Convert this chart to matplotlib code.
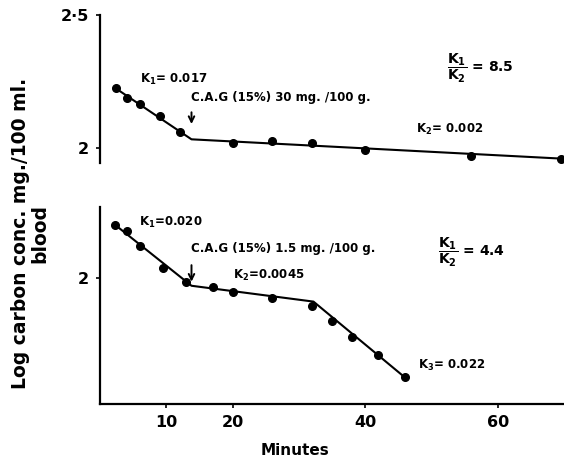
import matplotlib
matplotlib.use("Agg")
import matplotlib.pyplot as plt

plt.rcParams['font.family'] = ['DejaVu Sans']
plt.rcParams['font.weight'] = 'bold'
plt.rcParams['mathtext.fontset'] = 'dejavusans'

# upper experiment: 30 mg./100 g.
t_top = [2.4, 4, 6, 9, 12, 20, 26, 32, 40, 56, 69.5]
logc_top = [2.224, 2.189, 2.165, 2.121, 2.059, 2.021, 2.027, 2.018, 1.992, 1.971, 1.960]
fit_t_top = [2.4, 13.8, 70]
fit_c_top = [2.224, 2.033, 1.960]

# lower experiment: 1.5 mg./100 g.
t_bot = [2.3, 4, 6, 9.5, 13, 17, 20, 26, 32, 35, 38, 42, 46]
logc_bot = [2.204, 2.182, 2.123, 2.040, 1.986, 1.965, 1.945, 1.924, 1.893,
            1.836, 1.773, 1.705, 1.617]
fit_t_bot = [2.3, 13.8, 32.2, 46]
fit_c_bot = [2.204, 1.970, 1.909, 1.617]

x_ticks = [10, 20, 40, 60]

fig = plt.figure(figsize=(5.64, 4.57), dpi=100)
ax1 = fig.add_axes([0.1773, 0.6433, 0.8264, 0.3239])
ax2 = fig.add_axes([0.1773, 0.116, 0.8264, 0.431])

for ax in (ax1, ax2):
    ax.set_xlim(0, 70.3)
    for s in ('top', 'right'):
        ax.spines[s].set_visible(False)
    ax.spines['left'].set_linewidth(1.6)
    ax.spines['bottom'].set_linewidth(1.6)
    ax.tick_params(length=3, width=1.2, labelsize=11.5, pad=5)

ax1.spines['bottom'].set_visible(False)
ax1.set_xticks([])
ax1.set_ylim(1.944, 2.5)
ax1.set_yticks([2, 2.5])
ax1.set_yticklabels(['2', '2·5'])

ax2.set_ylim(1.515, 2.273)
ax2.set_yticks([2])
ax2.set_yticklabels(['2'])
ax2.set_xticks(x_ticks)
ax2.set_xticklabels([str(v) for v in x_ticks])

ax1.plot(fit_t_top, fit_c_top, color='black', lw=1.5)
ax1.plot(t_top, logc_top, 'o', color='black', ms=5.5, clip_on=False)
ax2.plot(fit_t_bot, fit_c_bot, color='black', lw=1.5)
ax2.plot(t_bot, logc_bot, 'o', color='black', ms=5.5, clip_on=False)

tk = dict(fontsize=8.5, fontweight='bold', va='center')
arrow = dict(arrowstyle='->', color='black', lw=1.4, mutation_scale=10)

ax1.text(6.0, 2.258, r'K$_\mathbf{1}$= 0.017', **tk)
ax1.text(13.7, 2.19, 'C.A.G (15%) 30 mg. /100 g.', **tk)
ax1.annotate('', xy=(13.8, 2.08), xytext=(13.8, 2.145), arrowprops=arrow)
ax1.text(47.6, 2.07, r'K$_\mathbf{2}$= 0.002', **tk)
ax1.text(52.3, 2.30, r'$\mathbf{\dfrac{K_1}{K_2}}$ = 8.5', fontsize=10,
         fontweight='bold', va='center')

ax2.text(5.9, 2.213, r'K$_\mathbf{1}$=0.020', **tk)
ax2.text(13.7, 2.115, 'C.A.G (15%) 1.5 mg. /100 g.', **tk)
ax2.annotate('', xy=(13.8, 1.975), xytext=(13.8, 2.06), arrowprops=arrow)
ax2.text(20.0, 2.01, r'K$_\mathbf{2}$=0.0045', **tk)
ax2.text(51.0, 2.10, r'$\mathbf{\dfrac{K_1}{K_2}}$ = 4.4', fontsize=10,
         fontweight='bold', va='center')
ax2.text(47.9, 1.664, r'K$_\mathbf{3}$= 0.022', **tk)

ax2.set_xlabel('Minutes', fontsize=11, fontweight='bold')
ax2.xaxis.set_label_coords((295 - 100) / 466, -0.2)
fig.text(0.053, 0.489, 'Log carbon conc. mg./100 ml.\nblood', rotation=90,
         ha='center', va='center', multialignment='center',
         fontsize=13.5, fontweight='bold', linespacing=1.0)

fig.savefig('out.png', dpi=100)
